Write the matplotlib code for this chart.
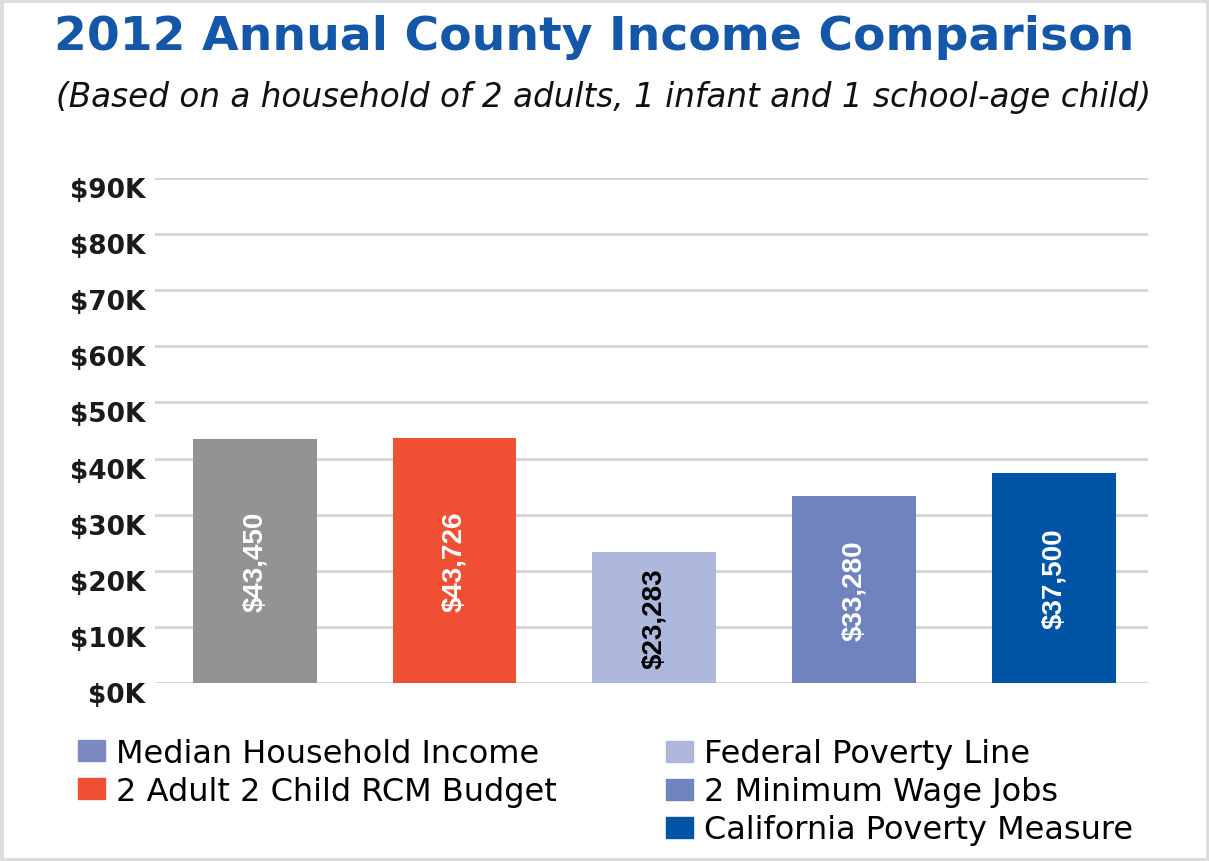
import matplotlib.pyplot as plt
from matplotlib.patches import Patch, Rectangle
from matplotlib.transforms import ScaledTranslation

categories = ["Median Household Income", "2 Adult 2 Child RCM Budget",
              "Federal Poverty Line", "2 Minimum Wage Jobs",
              "California Poverty Measure"]
values = [43450, 43726, 23283, 33280, 37500]
bar_labels = ["$43,450", "$43,726", "$23,283", "$33,280", "$37,500"]
bar_colors = ["#939393", "#EF4F32", "#AEB7DC", "#6F84BF", "#0054A6"]
legend_colors = ["#7C89C3", "#EF4F32", "#AEB7DC", "#6F84BF", "#0054A6"]
label_colors = ["white", "white", "black", "white", "white"]
yticks = [0, 10000, 20000, 30000, 40000, 50000, 60000, 70000, 80000, 90000]
ytick_labels = ["$0K", "$10K", "$20K", "$30K", "$40K", "$50K", "$60K",
                "$70K", "$80K", "$90K"]

plt.rcParams['font.family'] = ['DejaVu Sans']

fig = plt.figure(figsize=(12.09, 8.62), dpi=100)
ax = fig.add_axes([0.128, 0.2065, 0.8215, 0.5858])

x = list(range(len(values)))
ax.bar(x, values, width=0.62, color=bar_colors, zorder=3)
for i in x:
    ax.text(i, values[i] / 2, bar_labels[i], rotation=90, ha='center',
            va='center', color=label_colors[i], fontsize=20, fontweight='bold',
            family='Liberation Sans', zorder=4)

ax.set_xlim(-0.5, 4.47)
ax.set_ylim(0, 90000)
ax.set_yticks(yticks)
ax.set_yticklabels(ytick_labels, fontsize=19, fontweight='bold', color="#1a1a1a")
ax.set_xticks([])
ax.tick_params(axis='y', length=0, pad=7)
for lab in ax.get_yticklabels():
    lab.set_transform(lab.get_transform() + ScaledTranslation(0, -0.09, fig.dpi_scale_trans))
ax.grid(axis='y', color="#d4d4d4", linewidth=2, zorder=0)
for s in ax.spines.values():
    s.set_visible(False)

fig.text(0.045, 0.956, "2012 Annual County Income Comparison", fontsize=34,
         fontweight='bold', color="#1456A8", va='center')
fig.text(0.046, 0.887, "(Based on a household of 2 adults, 1 infant and 1 school-age child)",
         fontsize=23.5, style='italic', color="#111111", va='center')

handles = [Patch(color=c) for c in legend_colors]
leg_kw = dict(loc='upper left', frameon=False, fontsize=23,
              handlelength=0.85, handleheight=0.65, handletextpad=0.35,
              labelspacing=0.22, borderaxespad=0)
fig.legend(handles[:2], categories[:2], bbox_to_anchor=(0.054, 0.158), **leg_kw)
fig.legend(handles[2:], categories[2:], bbox_to_anchor=(0.540, 0.157), **leg_kw)

fig.patches.append(Rectangle((0, 0), 1, 1, transform=fig.transFigure,
                             fill=False, edgecolor="#dddddd", linewidth=5))

fig.savefig("out.png", dpi=100)
